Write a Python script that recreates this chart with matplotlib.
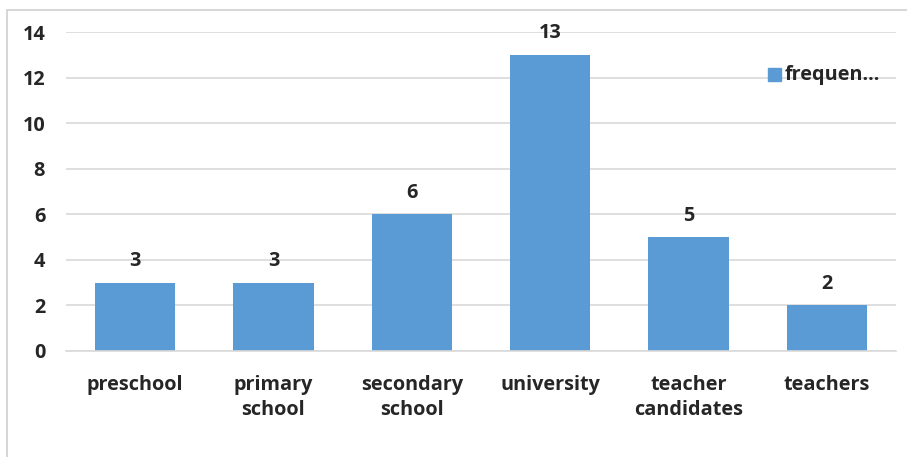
import matplotlib

matplotlib.use("Agg")
import matplotlib.pyplot as plt
from matplotlib.patches import Rectangle

categories = ["preschool", "primary\nschool", "secondary\nschool", "university",
              "teacher\ncandidates", "teachers"]
frequency = [3, 3, 6, 13, 5, 2]
y_ticks = [0, 2, 4, 6, 8, 10, 12, 14]

bar_color = "#5b9bd5"
text_color = "#262626"
grid_color = "#d9d9d9"
fs = 14.3

plt.rcParams["font.family"] = ["Open Sans", "DejaVu Sans"]

W, H = 907, 457
fig = plt.figure(figsize=(W / 100, H / 100), dpi=100)
ax = fig.add_axes([66 / W, 1 - 351 / H, 830 / W, 319 / H])

x = range(len(categories))
bars = ax.bar(x, frequency, width=0.58, color=bar_color, zorder=2)
for xi, v in zip(x, frequency):
    ax.text(xi, v + 0.5, str(v), ha="center", va="bottom", fontsize=fs,
            fontweight="bold", color=text_color)

ax.set_xlim(-0.5, len(categories) - 0.5)
ax.set_ylim(0, 14)
ax.set_yticks(y_ticks)
ax.set_yticklabels([str(t) for t in y_ticks], fontsize=fs, fontweight="bold", color=text_color)
ax.set_xticks(list(x))
ax.set_xticklabels(categories, fontsize=fs, fontweight="bold", color=text_color,
                   linespacing=1.35, va="top")
ax.tick_params(axis="both", length=0)
ax.tick_params(axis="y", pad=15)
ax.tick_params(axis="x", pad=17)
ax.grid(axis="y", color=grid_color, linewidth=1.2, zorder=0)
for side in ["top", "right", "left"]:
    ax.spines[side].set_visible(False)
ax.spines["bottom"].set_color(grid_color)
ax.spines["bottom"].set_linewidth(1.2)

# legend, no background, sits over the 12 gridline
fig.patches.append(Rectangle((768 / W, 1 - 81 / H), 13 / W, 13 / H,
                             transform=fig.transFigure, color=bar_color))
fig.text(785 / W, 1 - 75 / H, "frequen...", fontsize=fs, fontweight="bold",
         color=text_color, va="center", ha="left")

# chart border
fig.patches.append(Rectangle((7 / W, -0.05), 1.1, 1 - 10 / H + 0.05, transform=fig.transFigure,
                             fill=False, edgecolor="#d0d0d0", linewidth=1.2))

fig.savefig("out.png", dpi=100)
